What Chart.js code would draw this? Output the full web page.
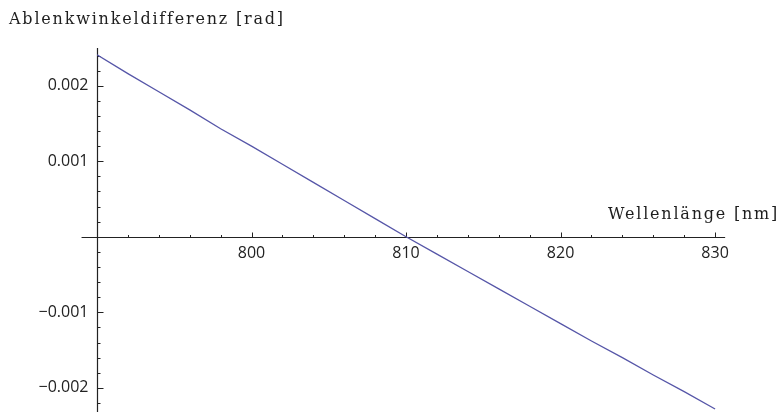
<!DOCTYPE html>
<html>
<head>
<meta charset="utf-8">
<script src="https://cdn.jsdelivr.net/npm/chart.js@4/dist/chart.umd.min.js"></script>
<style>
  html, body { margin: 0; padding: 0; background: #fff; }
  #wrap { width: 782px; height: 412px; position: relative; }
</style>
</head>
<body>
<div id="wrap"><canvas id="c"></canvas></div>
<script>
// Wavelength samples (nm) and deflection-angle difference (rad)
const wavelengths = [790, 792, 794, 796, 798, 800, 802, 804, 806, 808, 810,
                     812, 814, 816, 818, 820, 822, 824, 826, 828, 830];
const angleDiff = [0.00241, 0.00216, 0.00192, 0.00168, 0.00143, 0.00120,
                   0.00096, 0.00072, 0.00048, 0.00024, 0.00000,
                   -0.00023, -0.00046, -0.00069, -0.00092, -0.00115,
                   -0.00138, -0.00160, -0.00183, -0.00205, -0.00228];

// Axis ticks
const xMajorTicks = [800, 810, 820, 830];
const xTickLabels = ['800', '810', '820', '830'];
const yMajorTicks = [0.002, 0.001, -0.001, -0.002];
const yTickLabels = ['0.002', '0.001', '\u22120.001', '\u22120.002'];
const xMinorStep = 2;
const yMinorStep = 0.0002;

const xTitle = 'Wellenl\u00e4nge [nm]';
const yTitle = 'Ablenkwinkeldifferenz [rad]';

// Axes crossing at the origin (x = 790, y = 0), ticks pointing inward
const originAxes = {
  id: 'originAxes',
  beforeDatasetsDraw(chart) {
    const ctx = chart.ctx;
    const xs = chart.scales.x, ys = chart.scales.y;
    const y0 = Math.round(ys.getPixelForValue(0)) + 0.5;
    const x0 = Math.round(xs.getPixelForValue(790)) + 0.5;
    ctx.save();
    ctx.strokeStyle = '#222';
    ctx.lineWidth = 1.2;

    // x axis line
    ctx.beginPath();
    ctx.moveTo(xs.getPixelForValue(789), y0);
    ctx.lineTo(xs.getPixelForValue(830.65), y0);
    ctx.stroke();

    // y axis line
    ctx.beginPath();
    ctx.moveTo(x0, ys.getPixelForValue(0.0025));
    ctx.lineTo(x0, chart.height);
    ctx.stroke();

    ctx.lineWidth = 1;
    // x ticks
    for (let v = 792; v <= 830.01; v += xMinorStep) {
      const major = xMajorTicks.some(t => Math.abs(t - v) < 1e-6);
      const px = Math.round(xs.getPixelForValue(v)) + 0.5;
      ctx.beginPath();
      ctx.moveTo(px, y0);
      ctx.lineTo(px, y0 - (major ? 5 : 2.5));
      ctx.stroke();
    }
    // y ticks
    for (let k = -12; k <= 12; k++) {
      const v = k * yMinorStep;
      if (k === 0) continue;
      const major = k % 5 === 0;
      const py = Math.round(ys.getPixelForValue(v)) + 0.5;
      ctx.beginPath();
      ctx.moveTo(x0, py);
      ctx.lineTo(x0 + (major ? 6 : 3), py);
      ctx.stroke();
    }

    // tick labels
    ctx.fillStyle = '#222';
    ctx.font = '16px "Open Sans", sans-serif';
    ctx.textBaseline = 'middle';
    ctx.textAlign = 'center';
    xMajorTicks.forEach((t, i) => {
      ctx.fillText(xTickLabels[i], xs.getPixelForValue(t), y0 + 16);
    });
    ctx.textAlign = 'right';
    yMajorTicks.forEach((t, i) => {
      ctx.fillText(yTickLabels[i], x0 - 9, ys.getPixelForValue(t));
    });

    // axis titles
    ctx.font = '16px "DejaVu Serif", serif';
    ctx.letterSpacing = '1.8px';
    ctx.fillStyle = '#1e1e1e';
    ctx.textAlign = 'left';
    ctx.fillText(yTitle, 9, 20);
    ctx.fillText(xTitle, 608, y0 - 23);
    ctx.restore();
  }
};

new Chart(document.getElementById('c'), {
  type: 'line',
  data: {
    labels: wavelengths,
    datasets: [{
      data: wavelengths.map((w, i) => ({ x: w, y: angleDiff[i] })),
      borderColor: '#5656a8',
      borderWidth: 1.3,
      pointRadius: 0,
      tension: 0,
      fill: false
    }]
  },
  options: {
    responsive: true,
    maintainAspectRatio: false,
    animation: false,
    layout: { padding: { left: 97, right: 36, top: 48, bottom: 0 } },
    plugins: { legend: { display: false }, tooltip: { enabled: false } },
    scales: {
      x: { type: 'linear', min: 790, max: 832, display: false },
      y: { type: 'linear', min: -0.00232, max: 0.0025, display: false }
    }
  },
  plugins: [originAxes]
});
</script>
</body>
</html>
